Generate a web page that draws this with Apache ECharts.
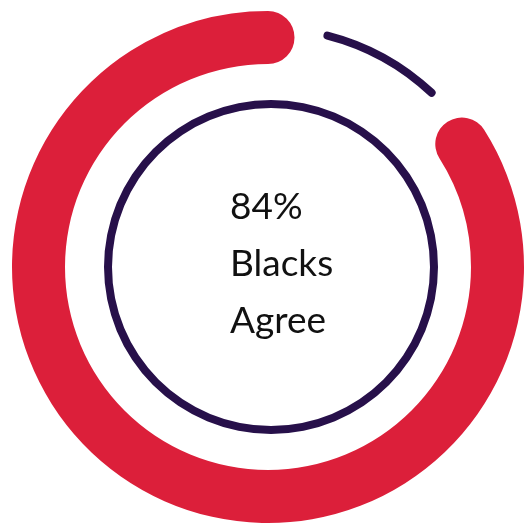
<!DOCTYPE html>
<html><head><meta charset="utf-8">
<script src="https://cdn.jsdelivr.net/npm/echarts@6/dist/echarts.min.js"></script>
<style>html,body{margin:0;padding:0;background:#fff}#c{width:530px;height:527px}</style>
</head><body><div id="c"></div>
<script>
// data
const categories = ['Agree', 'Other'];
const values = [84, 16];
const groupLabel = 'Blacks';
const agreeLabel = 'Agree';

const agree = values[0], other = values[1];
const RED = '#DC1F3A', PURPLE = '#27104A';
const chart = echarts.init(document.getElementById('c'), null, {renderer: 'canvas'});
function angleAx(i) { return {polarIndex: i, type: 'value', min: 0, max: 100, startAngle: 90, clockwise: true, show: false}; }
function radAx(i) { return {polarIndex: i, type: 'category', data: ['r'], show: false}; }
chart.setOption({
  animation: false,
  polar: [
    {center: [268, 267], radius: [203, 256]},
    {center: [268, 267], radius: [235, 243]}
  ],
  angleAxis: [angleAx(0), angleAx(1)],
  radiusAxis: [radAx(0), radAx(1)],
  series: [
    {type: 'bar', coordinateSystem: 'polar', polarIndex: 0, stack: 'a', name: 'gap', data: [other], itemStyle: {color: 'rgba(0,0,0,0)'}, barCategoryGap: '0%', silent: true},
    {type: 'bar', coordinateSystem: 'polar', polarIndex: 0, stack: 'a', name: categories[0], data: [agree], roundCap: true, itemStyle: {color: RED}, barCategoryGap: '0%', silent: true},
    {type: 'bar', coordinateSystem: 'polar', polarIndex: 1, stack: 'b', name: 'offset', data: [other / 4], itemStyle: {color: 'rgba(0,0,0,0)'}, barCategoryGap: '0%', silent: true},
    {type: 'bar', coordinateSystem: 'polar', polarIndex: 1, stack: 'b', name: categories[1], data: [other / 2], roundCap: true, itemStyle: {color: PURPLE}, barCategoryGap: '0%', silent: true},
    {type: 'pie', center: [271, 267], radius: [159, 167], data: [{value: 100, name: 'ring'}], label: {show: false}, labelLine: {show: false}, itemStyle: {color: PURPLE}, silent: true}
  ],
  graphic: [{
    type: 'text', x: 230, y: 264,
    style: {
      text: agree + '%\n' + groupLabel + '\n' + agreeLabel,
      fill: '#111', fontFamily: 'Lato', fontWeight: 400, fontSize: 37, lineHeight: 57,
      align: 'left', verticalAlign: 'middle'
    }
  }]
});
</script></body></html>
